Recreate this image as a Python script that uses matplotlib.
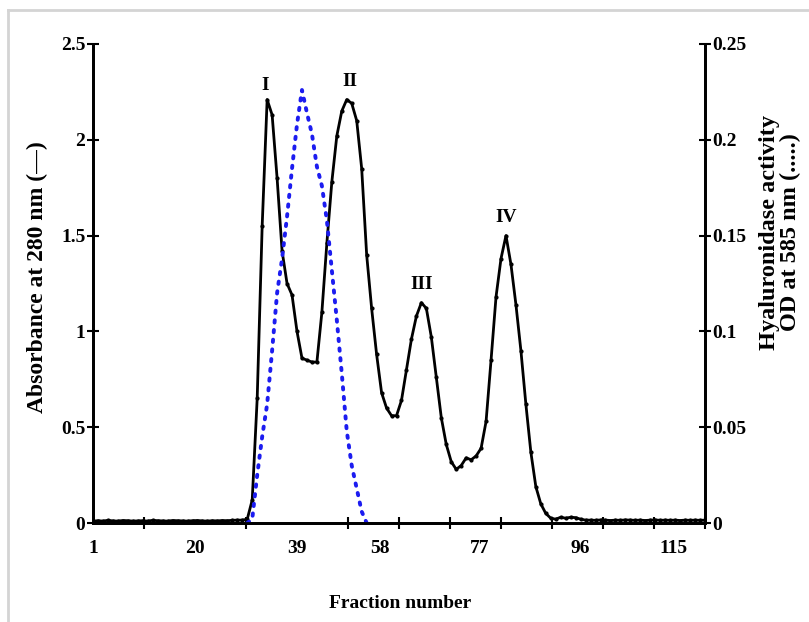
import numpy as np
import matplotlib
matplotlib.use("Agg")
import matplotlib.pyplot as plt
from matplotlib.lines import Line2D

# Absorbance at 280 nm, fraction 1..124
fraction = np.arange(1, 125)
absorbance = [
    0.010, 0.012, 0.010, 0.014, 0.011, 0.010, 0.013, 0.012, 0.010, 0.011,
    0.012, 0.010, 0.014, 0.012, 0.011, 0.010, 0.013, 0.012, 0.011, 0.010,
    0.012, 0.013, 0.011, 0.010, 0.012, 0.011, 0.013, 0.012, 0.014, 0.015,
    0.015, 0.020, 0.120, 0.650, 1.550, 2.210, 2.130, 1.800, 1.420, 1.250,
    1.190, 1.000, 0.860, 0.850, 0.840, 0.840, 1.100, 1.460, 1.780, 2.020,
    2.150, 2.210, 2.190, 2.100, 1.850, 1.400, 1.120, 0.880, 0.680, 0.600,
    0.560, 0.560, 0.640, 0.800, 0.960, 1.080, 1.150, 1.120, 0.970, 0.760,
    0.550, 0.410, 0.320, 0.280, 0.300, 0.340, 0.330, 0.350, 0.390, 0.530,
    0.850, 1.180, 1.380, 1.500, 1.350, 1.140, 0.900, 0.620, 0.370, 0.190,
    0.100, 0.050, 0.025, 0.020, 0.030, 0.025, 0.030, 0.028, 0.020, 0.015,
    0.015, 0.014, 0.016, 0.015, 0.013, 0.015, 0.014, 0.016, 0.015, 0.014,
    0.015, 0.013, 0.015, 0.016, 0.014, 0.015, 0.014, 0.015, 0.013, 0.015,
    0.014, 0.015, 0.014, 0.015,
]

# Hyaluronidase activity, OD at 585 nm
act_fraction = np.arange(32, 57)
activity = [
    0.000, 0.002, 0.025, 0.045, 0.062, 0.090, 0.120, 0.138, 0.160, 0.185,
    0.208, 0.226, 0.214, 0.203, 0.186, 0.176, 0.158, 0.132, 0.106, 0.078,
    0.048, 0.030, 0.018, 0.006, 0.000,
]

peak_names = ["I", "II", "III", "IV"]
peak_x = [35.5, 52.7, 67.0, 84.1]
peak_y = [2.24, 2.26, 1.20, 1.55]

x_labels = ["1", "20", "39", "58", "77", "96", "115"]
x_label_pos = [1, 21.5, 42.0, 58.7, 78.8, 98.9, 117.6]

plt.rcParams["font.family"] = "Liberation Serif"
plt.rcParams["font.weight"] = "bold"

fig = plt.figure(figsize=(8.09, 6.22), dpi=100)
ax = fig.add_axes([93 / 809, 1 - 523 / 622, 612 / 809, 479 / 622])
ax2 = ax.twinx()

ax.plot(fraction, absorbance, color="black", lw=2, marker="o", ms=2.0, zorder=3)
ax2.plot(act_fraction, activity, color="#1c1cf0", lw=2.8,
         linestyle=(0, (0.6, 1.9)), dash_capstyle="round")

for name, px, py in zip(peak_names, peak_x, peak_y):
    ax.text(px, py, name, ha="center", va="bottom", fontsize=14, fontweight="bold")

ax.set_xlim(1, 124)
ax.set_ylim(0, 2.5)
ax2.set_ylim(0, 0.25)

ax.set_xticks(x_label_pos)
ax.set_xticklabels(x_labels)
ax.set_xticks(np.linspace(1, 124, 13), minor=True)
ax.tick_params(axis="x", which="major", length=0, pad=12, labelsize=14)
ax.tick_params(axis="x", which="minor", direction="inout", length=9, width=1.5)

ax.set_yticks([0, 0.5, 1, 1.5, 2, 2.5])
ax.set_yticklabels(["0", "0.5", "1", "1.5", "2", "2.5"])
ax.tick_params(axis="y", direction="inout", length=9, width=1.5, labelsize=14, pad=1)
ax2.set_yticks([0, 0.05, 0.1, 0.15, 0.2, 0.25])
ax2.set_yticklabels(["0", "0.05", "0.1", "0.15", "0.2", "0.25"])
ax2.tick_params(axis="y", direction="inout", length=9, width=1.5, labelsize=14, pad=1)

for a in (ax, ax2):
    a.spines["top"].set_visible(False)
    for s in ("left", "right", "bottom"):
        a.spines[s].set_linewidth(2)

# axis titles
fig.text(400 / 809, 1 - 603 / 622, "Fraction number", ha="center", va="center",
         fontsize=14, fontweight="bold")
fig.text(37 / 809, 1 - 277 / 622, "Absorbance at 280 nm (\u2014)", ha="center",
         va="center", rotation=90, fontsize=17, fontweight="bold")
fig.text(780 / 809, 1 - 232 / 622, "Hyaluronidase activity\nOD at 585 nm (.....)",
         ha="center", va="center", rotation=90, fontsize=17.5, fontweight="bold",
         linespacing=1.0, multialignment="center")

# light grey frame around the picture
fig.add_artist(Line2D([8 / 809, 1], [1 - 10 / 622, 1 - 10 / 622],
                      color="#d4d4d4", lw=2, transform=fig.transFigure))
fig.add_artist(Line2D([8 / 809, 8 / 809], [0, 1 - 10 / 622],
                      color="#d4d4d4", lw=2, transform=fig.transFigure))

fig.savefig("out.png", dpi=100)
